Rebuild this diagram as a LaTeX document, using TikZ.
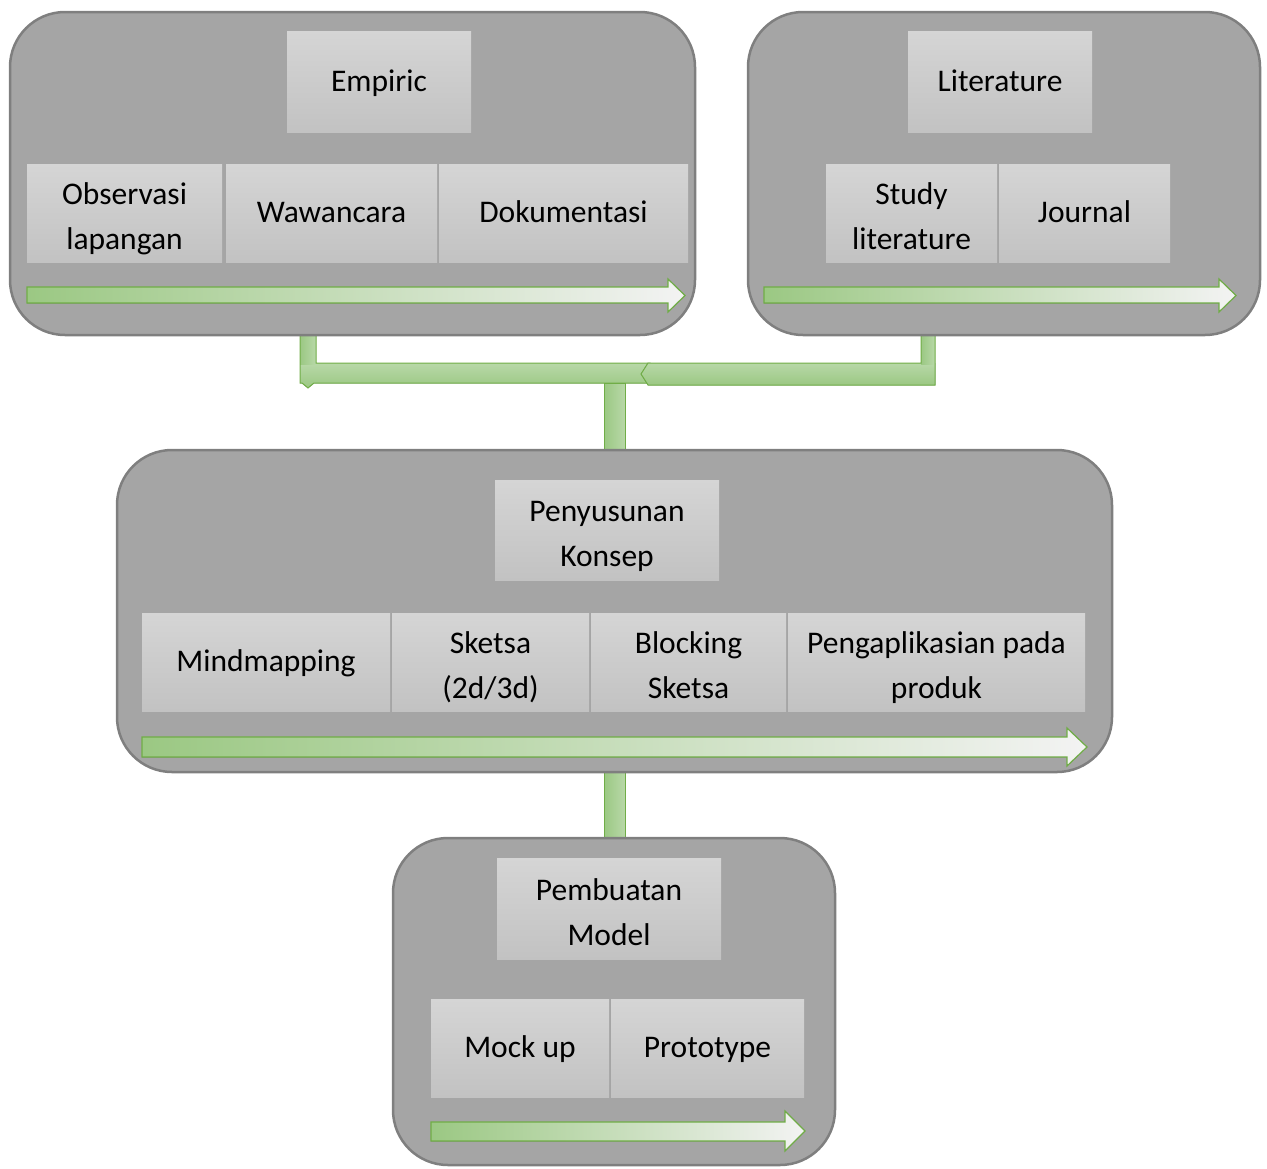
\documentclass[tikz,border=0pt]{standalone}
\usepackage{fontspec}
\setmainfont{Carlito}
\definecolor{boxfill}{HTML}{A5A5A5}
\definecolor{boxline}{HTML}{7F7F7F}
\definecolor{celltop}{HTML}{D5D5D5}
\definecolor{cellbot}{HTML}{C2C2C2}
\definecolor{gdark}{HTML}{9BC883}
\definecolor{glight}{HTML}{F3F3F3}
\definecolor{gline}{HTML}{70AD47}
\definecolor{gbarlight}{HTML}{B8D8A8}
\tikzset{
  container/.style={draw=boxline, line width=2.5pt, fill=boxfill, rounded corners=55pt, inner sep=0pt, outer sep=0pt},
  cell/.style={draw=none, top color=celltop, bottom color=cellbot, inner sep=0pt, outer sep=0pt},
  celltext/.style={inner sep=0pt, align=center, text=black, font=\fontsize{31.5}{45}\selectfont},
  oneline/.style={celltext, text height=23pt, text depth=4pt},
  twoline/.style={celltext, yshift=-5pt},
  flow/.style={draw=gline, line width=1.2pt, left color=gdark, right color=glight},
  hbarfill/.style={top color=gbarlight, bottom color=gdark},
  vbarfill/.style={left color=gdark, right color=gbarlight},
  vbar/.style={draw=gline, line width=1pt, vbarfill},
  barline/.style={draw=gline, line width=1pt},
}
% #1 name, #2 x1, #3 y1, #4 x2, #5 y2, #6 text
\newcommand\cellbox[6]{\node[cell, minimum width={#4-#2}, minimum height={#5-#3}] (#1) at ({(#2+#4)/2},{(#3+#5)/2}) {};
  \node[oneline] (#1-t) at (#1.center) {#6};}
\newcommand\cellboxii[6]{\node[cell, minimum width={#4-#2}, minimum height={#5-#3}] (#1) at ({(#2+#4)/2},{(#3+#5)/2}) {};
  \node[twoline] (#1-t) at (#1.center) {\strut #6\strut};}
\newcommand\contbox[5]{\node[container, minimum width={#4-#2}, minimum height={#5-#3}] (#1) at ({(#2+#4)/2},{(#3+#5)/2}) {};}
% #1 x1, #2 body top, #3 body bottom, #4 head start, #5 head top, #6 head bottom, #7 tip
\newcommand\flowarrow[7]{\filldraw[flow] (#1,#2) -- (#4,#2) -- (#4,#5) -- (#7,{(#5+#6)/2}) -- (#4,#6) -- (#4,#3) -- (#1,#3) -- cycle;}
\begin{document}
\begin{tikzpicture}[x=1pt,y=-1pt]
\useasboundingbox (0,0) rectangle (1267,1168);
% connectors (behind containers)
\fill[hbarfill] (300,363) -- (650,363) -- (650,383) -- (314,383) -- (308,388) -- (302,383) -- (300,383) -- cycle;
\fill[vbarfill] (300,330) rectangle (316,364);
\draw[barline] (300,330) -- (300,383) -- (302,383) -- (308,388) -- (314,383) -- (650,383) -- (650,363) -- (316,363) -- (316,330);
\fill[hbarfill] (935,363) -- (935,385) -- (648,385) -- (641,374) -- (648,363) -- cycle;
\fill[vbarfill] (921,330) rectangle (935,364);
\draw[barline] (921,330) -- (921,363) -- (648,363) -- (641,374) -- (648,385) -- (935,385) -- (935,330);
\filldraw[vbar] (604,383) rectangle (625,455);
\filldraw[vbar] (604,768) rectangle (625,842);
% containers
\contbox{empbox}{10}{12}{695}{335}
\contbox{litbox}{748}{12}{1260}{335}
\contbox{konbox}{117}{450}{1112}{772}
\contbox{modbox}{393}{838}{835}{1165}
% box 1
\cellbox{empiric}{287}{31}{471}{132}{Empiric}
\cellboxii{obs}{27}{164}{222}{262}{Observasi\\lapangan}
\cellbox{waw}{226}{164}{437}{262}{Wawancara}
\cellbox{dok}{439}{164}{688}{262}{Dokumentasi}
\flowarrow{27}{287}{303}{668}{279}{312}{685}
% box 2
\cellbox{lit}{908}{31}{1092}{132}{Literature}
\cellboxii{study}{826}{164}{997}{262}{Study\\literature}
\cellbox{journal}{999}{164}{1170}{262}{Journal}
\flowarrow{764}{287}{303}{1219}{279}{312}{1236}
% box 3
\cellboxii{konsep}{495}{480}{719}{580}{Penyusunan\\Konsep}
\cellbox{mind}{142}{613}{390}{711}{Mindmapping}
\cellboxii{sketsa}{392}{613}{589}{711}{Sketsa\\(2d/3d)}
\cellboxii{blocking}{591}{613}{786}{711}{Blocking\\Sketsa}
\cellboxii{peng}{788}{613}{1085}{711}{Pengaplikasian pada\\produk}
\flowarrow{142}{737}{757}{1067}{728}{766}{1087}
% box 4
\cellboxii{model}{497}{858}{721}{959}{Pembuatan\\Model}
\cellbox{mock}{431}{999}{609}{1097}{Mock up}
\cellbox{proto}{611}{999}{804}{1097}{Prototype}
\flowarrow{431}{1122}{1141}{785}{1111}{1151}{805}
\end{tikzpicture}
\end{document}
